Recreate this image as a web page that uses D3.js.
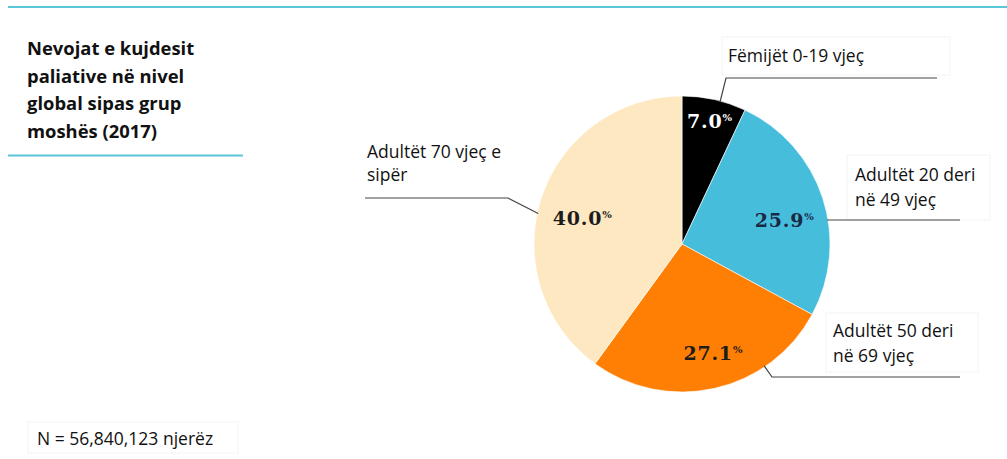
<!DOCTYPE html>
<html>
<head>
<meta charset="utf-8">
<script src="https://cdn.jsdelivr.net/npm/d3@7"></script>
<style>
  html, body { margin: 0; padding: 0; background: #fff; }
  svg { display: block; }
  .sans { font-family: "Open Sans", "Noto Sans", sans-serif; }
  .pct { font-family: "DejaVu Serif", serif; font-weight: bold; }
</style>
</head>
<body>
<svg id="chart" width="1007" height="459"></svg>
<script>
// Age groups and their share of global palliative-care need (%)
const groups = ["Fëmijët 0-19 vjeç", "Adultët 20 deri në 49 vjeç", "Adultët 50 deri në 69 vjeç", "Adultët 70 vjeç e sipër"];
const shares = [7.0, 25.9, 27.1, 40.0];
const sliceColors = ["#000000", "#47bddc", "#fe7f03", "#fde8c1"];
const pctColors = ["#ffffff", "#1b2945", "#1c1c1c", "#1c1c1c"];
const labelLines = [["Fëmijët 0-19 vjeç"], ["Adultët 20 deri", "në 49 vjeç"], ["Adultët 50 deri", "në 69 vjeç"], ["Adultët 70 vjeç e", "sipër"]];
const titleLines = ["Nevojat e kujdesit", "paliative në nivel", "global sipas grup", "moshës (2017)"];
const totalNote = "N = 56,840,123 njerëz";

// Layout
const cx = 682, cy = 244, R = 148;
const pctRadius = [126, 105, 113, 103];          // radius for value labels
const pctShiftDeg = [0, 5, -3.1, -3.4];          // nudge from slice mid-angle
const anchorDeg = [15, 80.5, 146, 282];          // where each leader touches the rim
const calloutBox = [
  { x: 722, y: 37, w: 228, h: 38, tx: 728, ty: 62, lh: 25, line: [[726, 78], [937, 78]], box: true },
  { x: 847, y: 155, w: 143, h: 65, tx: 855, ty: 181, lh: 25, line: [[828, 220], [960, 220]], box: true },
  { x: 826, y: 313, w: 152, h: 59, tx: 833, ty: 337, lh: 25, line: [[772, 377], [960, 377]], box: true },
  { x: 360, y: 136, w: 150, h: 50, tx: 367, ty: 158, lh: 23, line: [[508, 198], [365, 198]], box: false }
];

const svg = d3.select("#chart");

// Top rule
svg.append("line").attr("x1", 8).attr("x2", 1007).attr("y1", 7).attr("y2", 7)
  .attr("stroke", "#5bc6da").attr("stroke-width", 2);

// Title
const title = svg.append("text").attr("class", "sans")
  .attr("x", 27).attr("y", 55)
  .attr("font-size", 18.4).attr("font-weight", "bold").attr("fill", "#111");
titleLines.forEach((t, i) => title.append("tspan").attr("x", 27).attr("dy", i ? 27.5 : 0).text(t));
svg.append("line").attr("x1", 8).attr("x2", 243).attr("y1", 155.5).attr("y2", 155.5)
  .attr("stroke", "#5bc6da").attr("stroke-width", 2);

// Pie
const pie = d3.pie().sort(null).value(d => d)(shares);
const arc = d3.arc().innerRadius(0).outerRadius(R);
const g = svg.append("g").attr("transform", `translate(${cx},${cy})`);
g.selectAll("path.slice").data(pie).join("path")
  .attr("class", "slice")
  .attr("d", arc)
  .attr("fill", (d, i) => sliceColors[i])
  .attr("stroke", "#ffffff").attr("stroke-width", 0.6);

// Value labels
pie.forEach((d, i) => {
  const mid = (d.startAngle + d.endAngle) / 2 + pctShiftDeg[i] * Math.PI / 180;
  const r = pctRadius[i];
  const x = Math.sin(mid) * r, y = -Math.cos(mid) * r;
  const t = g.append("text").attr("class", "pct")
    .attr("x", x).attr("y", y + 7)
    .attr("text-anchor", "middle")
    .attr("fill", pctColors[i]);
  t.append("tspan").attr("font-size", 19).attr("letter-spacing", 0.8).text(shares[i].toFixed(1));
  t.append("tspan").attr("font-size", 10).attr("dy", -7).text("%");
});

// Callouts with leader lines
calloutBox.forEach((b, i) => {
  if (b.box) {
    svg.append("rect").attr("x", b.x).attr("y", b.y).attr("width", b.w).attr("height", b.h)
      .attr("fill", "#fff").attr("stroke", "#f4f4f4").attr("stroke-width", 1);
  }
  const a = anchorDeg[i] * Math.PI / 180;
  const rim = [cx + Math.sin(a) * (R - 1), cy - Math.cos(a) * (R - 1)];
  const pts = [rim, b.line[0], b.line[1]];
  svg.append("path").attr("d", d3.line()(pts))
    .attr("fill", "none").attr("stroke", "#444").attr("stroke-width", 1.2);
  const t = svg.append("text").attr("class", "sans")
    .attr("x", b.tx).attr("y", b.ty).attr("font-size", 17.5).attr("fill", "#111");
  labelLines[i].forEach((s, k) => t.append("tspan").attr("x", b.tx).attr("dy", k ? b.lh : 0).text(s));
});

// Total note
svg.append("rect").attr("x", 28).attr("y", 422).attr("width", 210).attr("height", 31)
  .attr("fill", "#fff").attr("stroke", "#f4f4f4");
svg.append("text").attr("class", "sans").attr("x", 37).attr("y", 445)
  .attr("font-size", 17.5).attr("fill", "#111").text(totalNote);
</script>
</body>
</html>
